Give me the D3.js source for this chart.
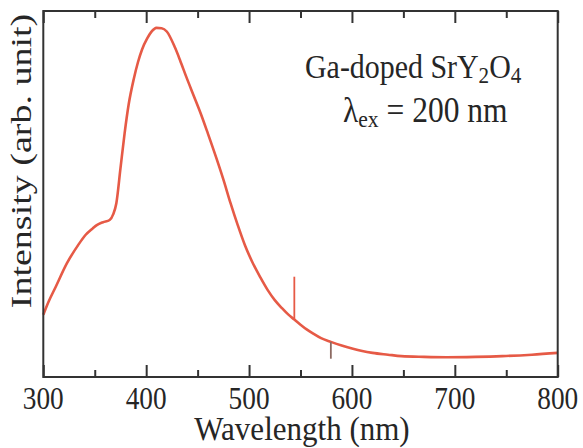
<!DOCTYPE html>
<html>
<head>
<meta charset="utf-8">
<script src="https://cdn.jsdelivr.net/npm/d3@7/dist/d3.min.js"></script>
<style>
  html, body { margin: 0; padding: 0; background: #fff; }
  svg { display: block; }
  text { font-family: "Liberation Serif", "Times New Roman", serif; fill: #262626; }
</style>
</head>
<body>
<svg id="chart" width="583" height="448"></svg>
<script>
// Photoluminescence emission spectrum, Ga-doped SrY2O4, excited at 200 nm
const wavelength = [300, 305, 312, 323, 334, 341, 348, 352, 358, 364.5, 368, 371, 375, 379, 383, 388, 392, 396, 401, 405, 410, 415, 420, 428, 433, 439, 446, 453, 460, 468, 475, 482, 489, 496, 503, 511, 518, 525, 532, 538, 544, 550, 556, 562, 570, 579.5, 590, 601, 610, 620, 635, 648, 670, 692, 720, 746, 775, 800];
const intensity = [17, 20.5, 24.6, 31.1, 36.1, 38.8, 40.6, 41.5, 42.3, 42.9, 44.5, 47.5, 57, 66.5, 74.5, 81.5, 86, 89.5, 92.5, 94.3, 95.4, 95.3, 94.4, 90, 86.5, 82, 77, 72, 66.5, 60, 54, 47.5, 41.5, 36, 31.5, 27.2, 23.8, 21, 18.8, 17.1, 15.7, 14.3, 13, 11.9, 10.6, 9.6, 8.6, 7.7, 7.1, 6.6, 6.1, 5.7, 5.5, 5.4, 5.5, 5.7, 6.1, 6.6];
// narrow spikes riding on the band: [wavelength, tip intensity]
const spikeWavelength = [544, 579.5];
const spikeTip = [27.4, 5.0];
const spikeColor = ["#e65a46", "#8c6a62"];
const majorTicks = [300, 400, 500, 600, 700, 800];
const minorTicks = [350, 450, 550, 650, 750];
const xTitle = "Wavelength (nm)";
const yTitle = "Intensity (arb. unit)";

const svg = d3.select("#chart");
const plotLeft = 43.3, plotRight = 557.7, plotTop = 11, plotBottom = 377;
const sx = 0.88; // horizontal squeeze of the serif lettering

const x = d3.scaleLinear().domain([300, 800]).range([plotLeft, plotRight]);
const y = d3.scaleLinear().domain([0, 100]).range([plotBottom, plotTop]);

// spectrum
const pts = wavelength.map((w, i) => [w, intensity[i]]);
svg.append("path")
  .datum(pts)
  .attr("fill", "none")
  .attr("stroke", "#e65a46")
  .attr("stroke-width", 2.6)
  .attr("stroke-linejoin", "round")
  .attr("d", d3.line().x(d => x(d[0])).y(d => y(d[1])).curve(d3.curveMonotoneX));

// spikes: from the band value up (or down) to the tip
const bandAt = w => {
  const i = d3.bisectLeft(wavelength, w);
  const t = (w - wavelength[i - 1]) / (wavelength[i] - wavelength[i - 1]);
  return intensity[i - 1] + t * (intensity[i] - intensity[i - 1]);
};
spikeWavelength.forEach((w, i) => {
  svg.append("line")
    .attr("x1", x(w)).attr("x2", x(w))
    .attr("y1", y(bandAt(w))).attr("y2", y(spikeTip[i]))
    .attr("stroke", spikeColor[i]).attr("stroke-width", 1.8);
});

// inward ticks on bottom and top edges
function ticks(axisFn, ypos, vals, size) {
  const g = svg.append("g")
    .attr("transform", `translate(0,${ypos})`)
    .call(axisFn(x).tickValues(vals).tickSize(-size).tickFormat(""));
  g.select(".domain").remove();
  g.selectAll("line").attr("stroke", "#333").attr("stroke-width", 2);
  g.selectAll("text").remove();
}
ticks(d3.axisBottom, plotBottom, majorTicks, 12);
ticks(d3.axisBottom, plotBottom, minorTicks, 7);
ticks(d3.axisTop, plotTop, majorTicks, 12);
ticks(d3.axisTop, plotTop, minorTicks, 7);

// frame
svg.append("rect")
  .attr("x", plotLeft).attr("y", plotTop)
  .attr("width", plotRight - plotLeft).attr("height", plotBottom - plotTop)
  .attr("fill", "none").attr("stroke", "#333").attr("stroke-width", 2);

// tick labels
majorTicks.forEach(v => {
  svg.append("g")
    .attr("transform", `translate(${x(v)},409) scale(${sx},1)`)
    .append("text")
    .attr("text-anchor", "middle")
    .attr("font-size", 31)
    .text(v);
});

// axis titles
svg.append("g")
  .attr("transform", `translate(302,440) scale(0.94,1)`)
  .append("text")
  .attr("text-anchor", "middle")
  .attr("font-size", 33)
  .text(xTitle);

svg.append("g")
  .attr("transform", `translate(31,161) rotate(-90) scale(1,0.8)`)
  .append("text")
  .attr("text-anchor", "middle")
  .attr("font-size", 38)
  .text(yTitle);

// annotation
const a1 = svg.append("g").attr("transform", `translate(305,78) scale(${sx},1)`)
  .append("text").attr("font-size", 34);
a1.append("tspan").text("Ga-doped SrY");
a1.append("tspan").attr("font-size", 24).attr("dy", 5).text("2");
a1.append("tspan").attr("dy", -5).text("O");
a1.append("tspan").attr("font-size", 24).attr("dy", 5).text("4");

const a2 = svg.append("g").attr("transform", `translate(343,122) scale(0.9,1)`)
  .append("text").attr("font-size", 35);
a2.append("tspan").text("λ");
a2.append("tspan").attr("font-size", 24).attr("dy", 5).text("ex");
a2.append("tspan").attr("dy", -5).text(" = 200 nm");
</script>
</body>
</html>
